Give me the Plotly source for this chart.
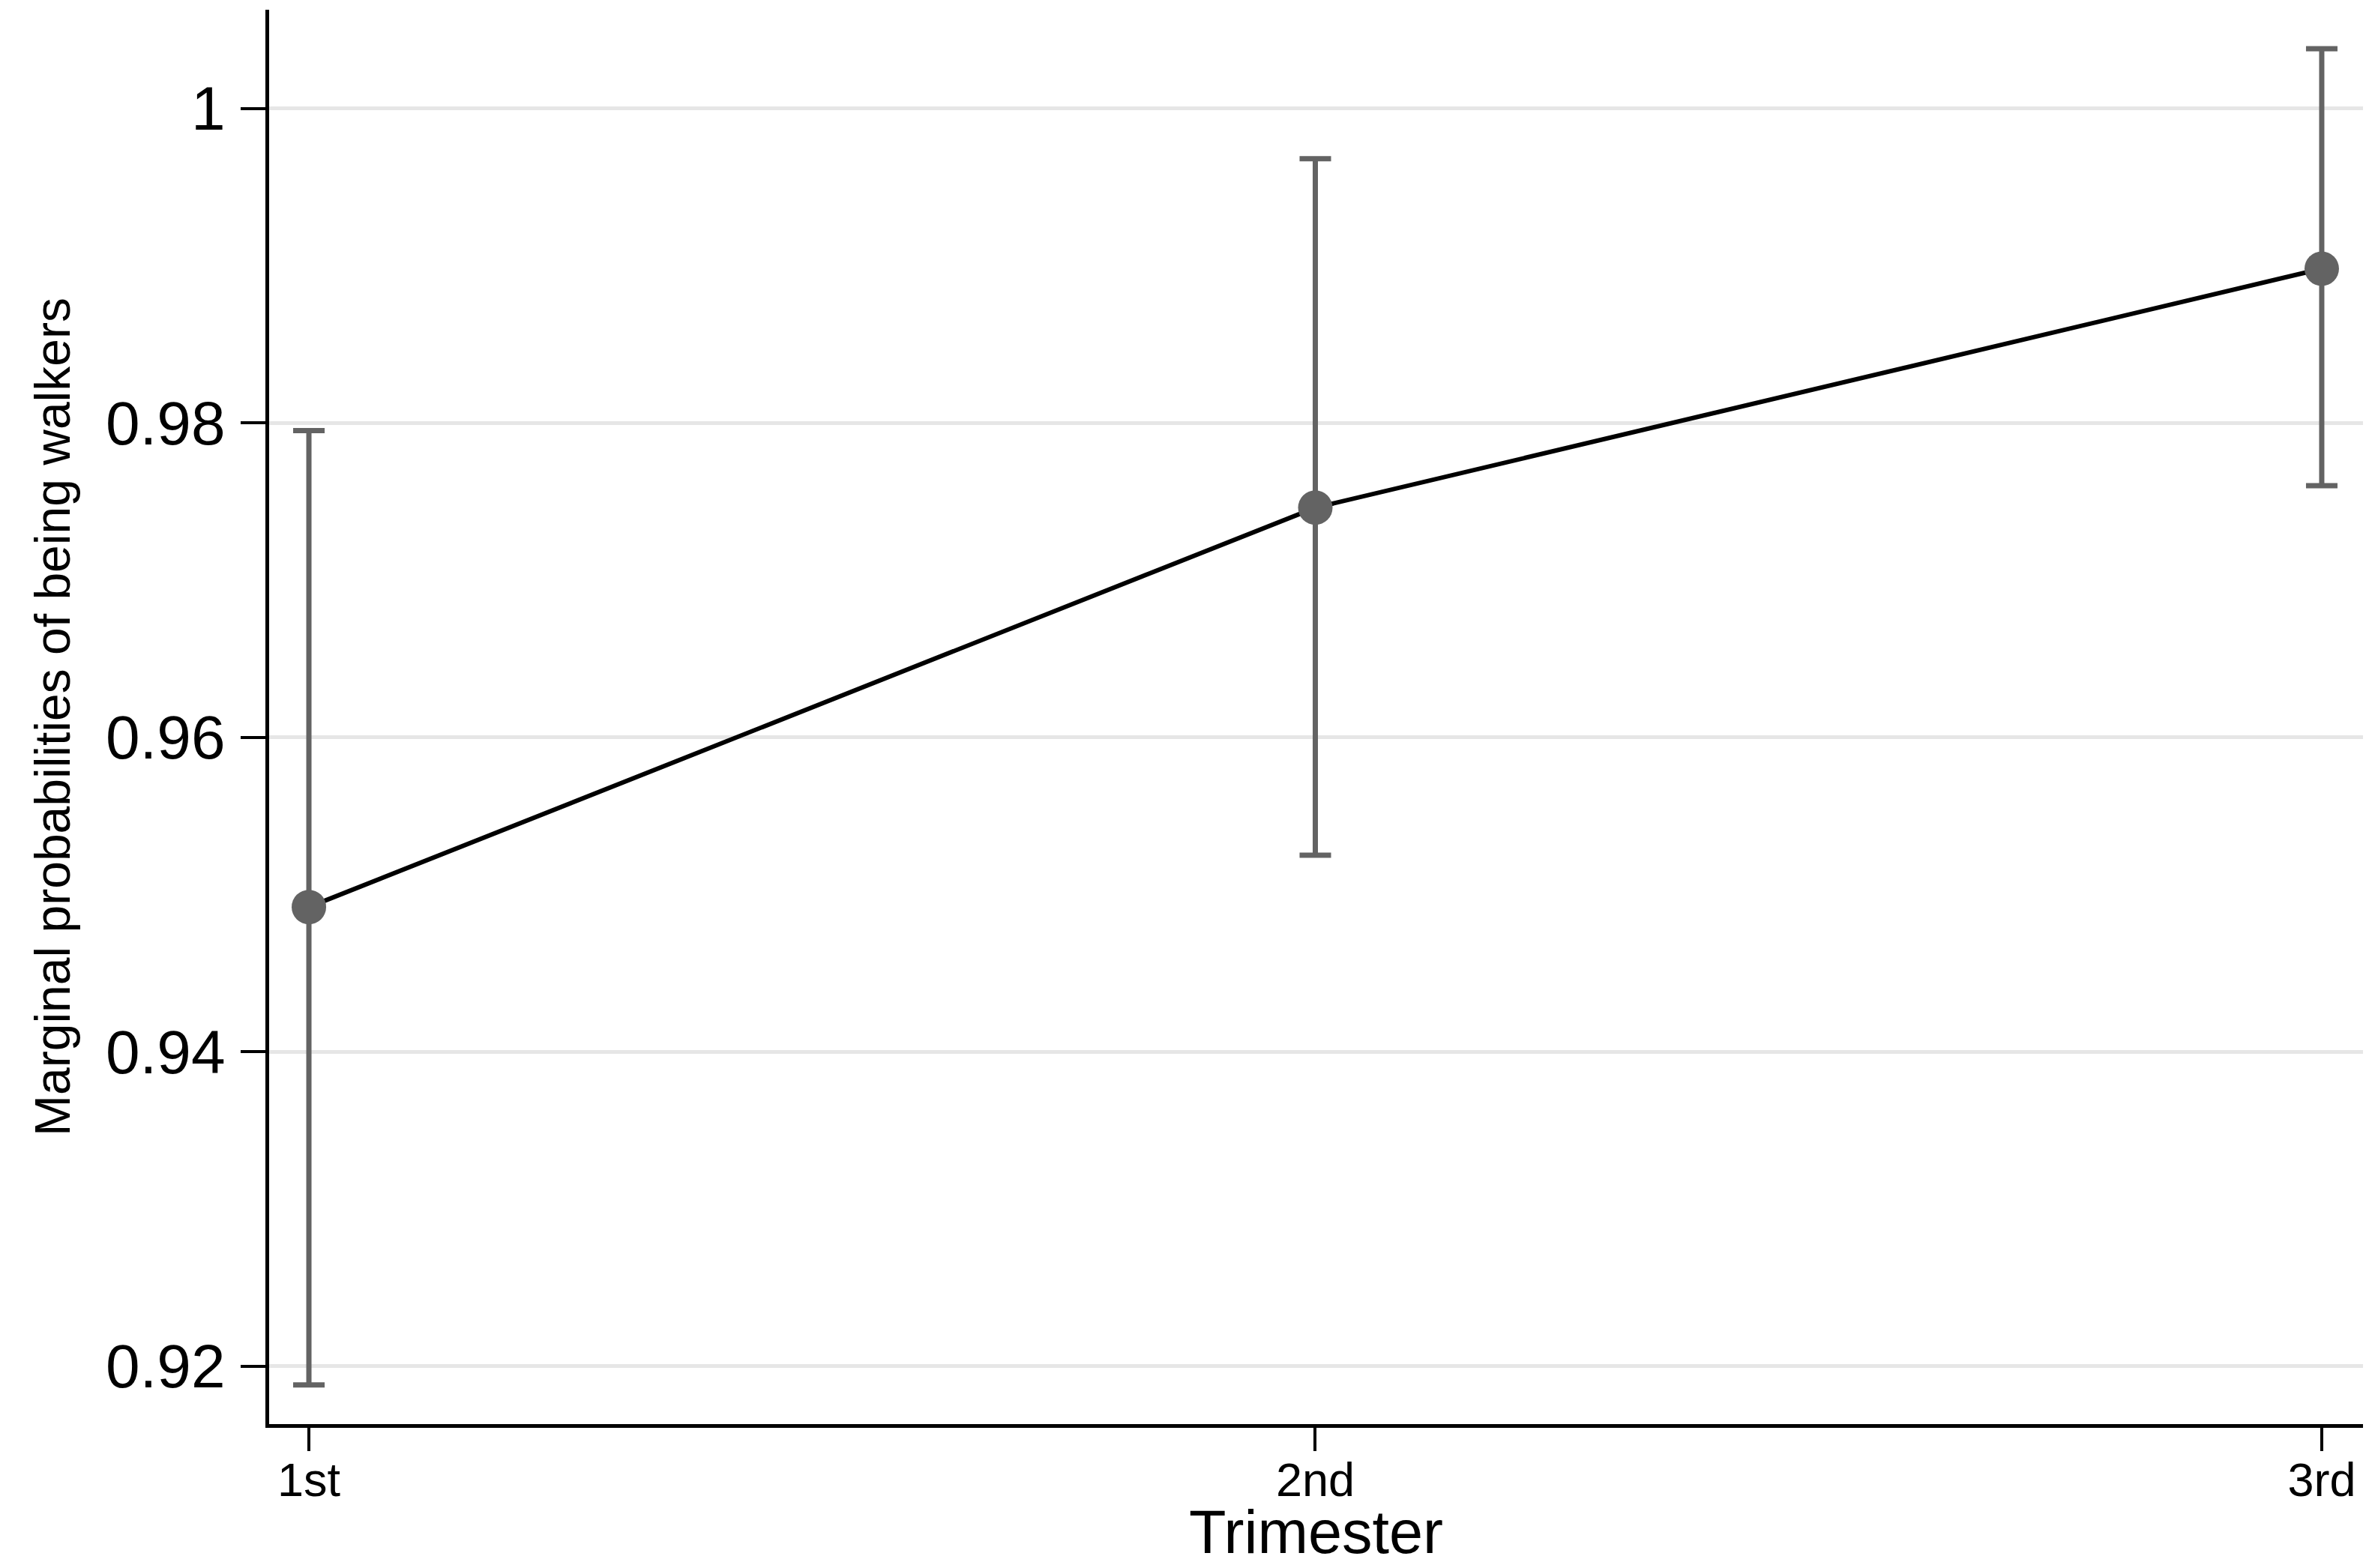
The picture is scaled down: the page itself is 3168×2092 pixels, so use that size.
import plotly.graph_objects as go

# Data
trimester_pos = [1, 2, 3]
trimester_labels = ["1st", "2nd", "3rd"]
margins = [0.9492, 0.9746, 0.9898]
ci_lower = [0.9188, 0.9525, 0.9760]
ci_upper = [0.9795, 0.9968, 1.0038]
y_tick_vals = [0.92, 0.94, 0.96, 0.98, 1.0]
y_tick_text = ["0.92", "0.94", "0.96", "0.98", "1"]
x_title = "Trimester"
y_title = "Marginal probabilities of being walkers"

err_plus = [u - m for u, m in zip(ci_upper, margins)]
err_minus = [m - l for m, l in zip(margins, ci_lower)]

GRAY = "#636363"
FONT = "Liberation Sans, Arial, sans-serif"

fig = go.Figure()
fig.add_trace(go.Scatter(
    x=trimester_pos, y=margins,
    mode="lines+markers",
    line=dict(color="black", width=6),
    marker=dict(color=GRAY, size=46, line=dict(width=0)),
    error_y=dict(type="data", symmetric=False, array=err_plus, arrayminus=err_minus,
                 color=GRAY, thickness=7, width=21),
    showlegend=False,
))

fig.update_layout(
    width=3160, height=2084,
    margin=dict(l=351, r=16, t=5, b=192),
    paper_bgcolor="white", plot_bgcolor="white",
    font=dict(family=FONT, color="black"),
    xaxis=dict(
        range=[0.9605, 3.041],
        automargin=False,
        tickvals=trimester_pos, ticktext=trimester_labels,
        tickfont=dict(size=63, family=FONT),
        ticks="outside", ticklen=31, tickwidth=4, tickcolor="black",
        ticklabelstandoff=-16,
        showline=True, linecolor="black", linewidth=5,
        showgrid=False, zeroline=False,
    ),
    yaxis=dict(
        range=[0.91631, 1.006274],
        automargin=False,
        tickvals=y_tick_vals, ticktext=y_tick_text,
        tickfont=dict(size=82, family=FONT),
        ticks="outside", ticklen=33, tickwidth=4, tickcolor="black",
        ticklabelstandoff=4,
        showline=True, linecolor="black", linewidth=5,
        showgrid=True, gridcolor="#e6e6e6", gridwidth=5,
        zeroline=False,
        title=dict(text=y_title, font=dict(size=66, family=FONT), standoff=27),
    ),
    annotations=[dict(
        text=x_title, xref="paper", yref="paper", x=0.5, y=0,
        xanchor="center", yanchor="middle", yshift=-144, showarrow=False,
        font=dict(size=81, family=FONT, color="black"),
    )],
)

fig.write_html("out.html")
